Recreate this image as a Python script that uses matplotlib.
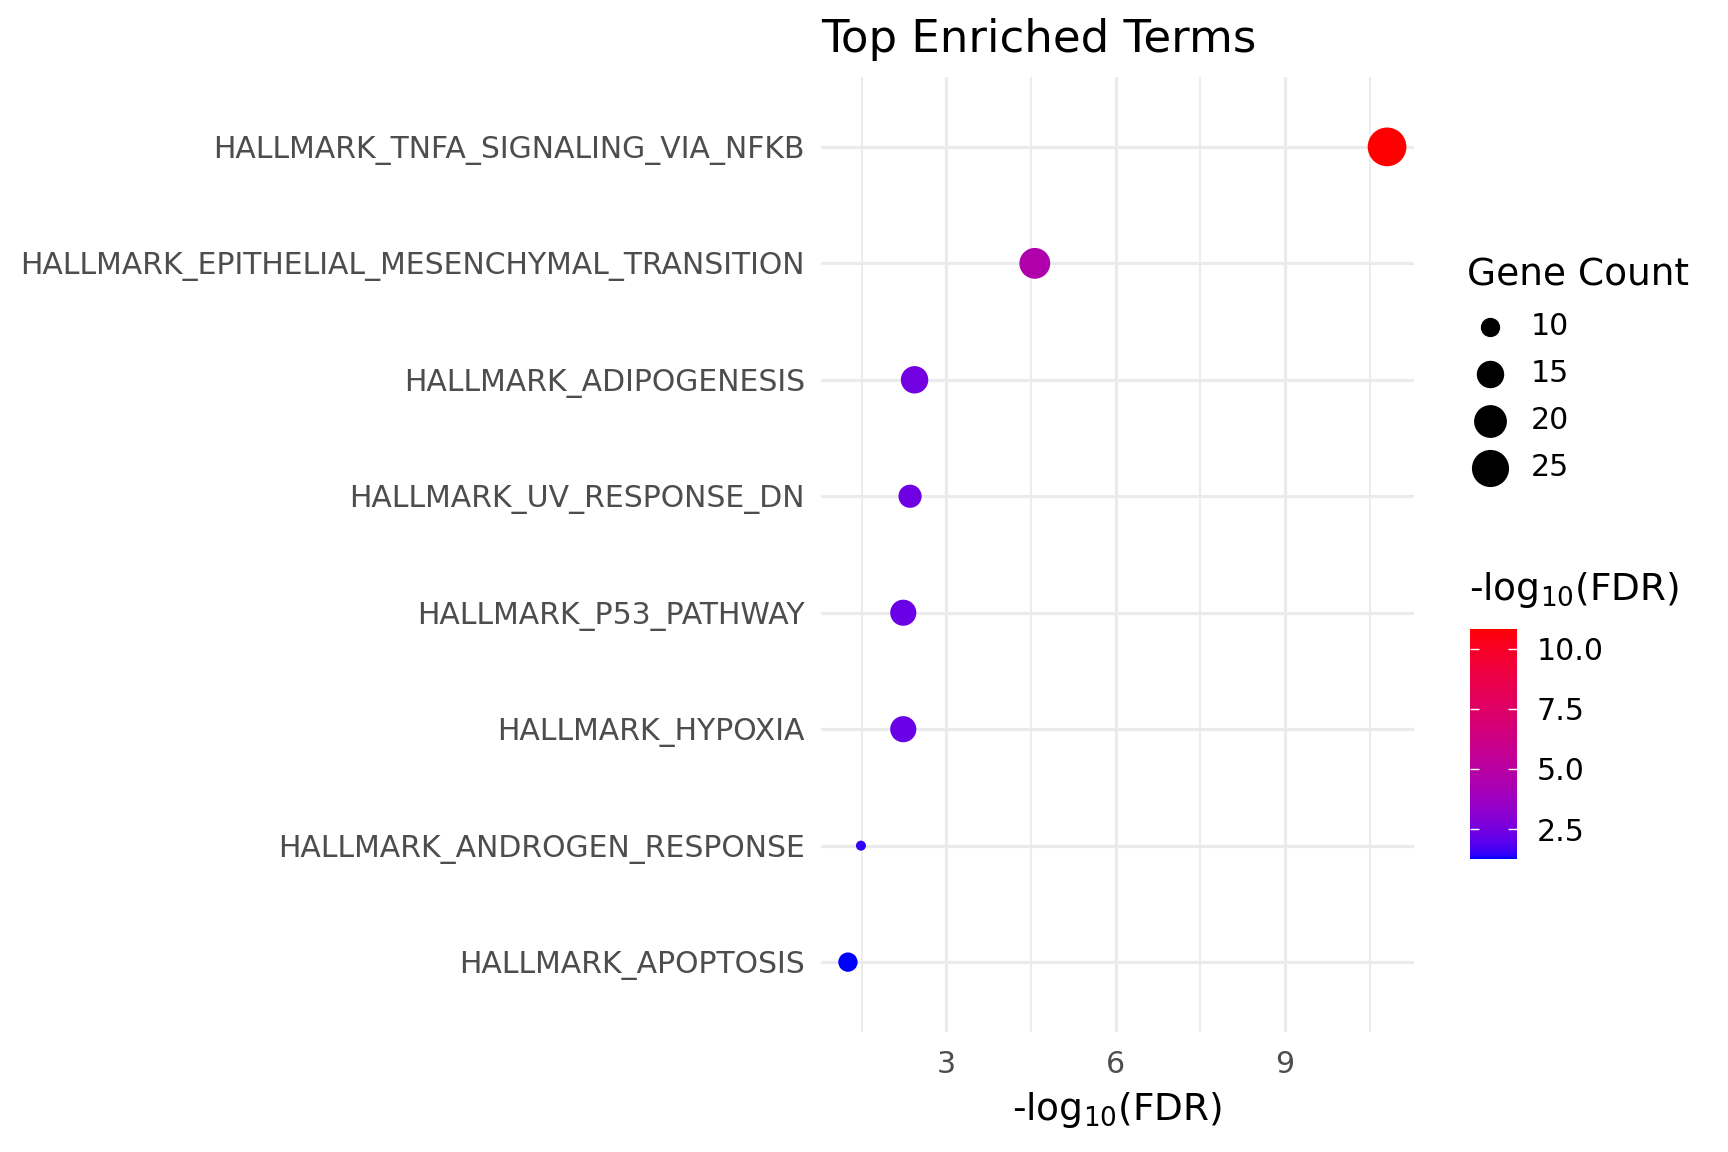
import numpy as np
import matplotlib
matplotlib.use("Agg")
import matplotlib.pyplot as plt
from matplotlib.colors import ListedColormap, Normalize

# data, top row first
terms = [
    "HALLMARK_TNFA_SIGNALING_VIA_NFKB",
    "HALLMARK_EPITHELIAL_MESENCHYMAL_TRANSITION",
    "HALLMARK_ADIPOGENESIS",
    "HALLMARK_UV_RESPONSE_DN",
    "HALLMARK_P53_PATHWAY",
    "HALLMARK_HYPOXIA",
    "HALLMARK_ANDROGEN_RESPONSE",
    "HALLMARK_APOPTOSIS",
]
neg_log_fdr = [10.81, 4.57, 2.44, 2.36, 2.24, 2.24, 1.49, 1.26]
gene_count = [27, 18, 15, 12, 14, 14, 8, 10]
legend_counts = [10, 15, 20, 25]
cbar_ticks = [2.5, 5.0, 7.5, 10.0]


def srgb_to_lab(rgb):
    rgb = np.asarray(rgb, float)
    lin = np.where(rgb <= 0.04045, rgb / 12.92, ((rgb + 0.055) / 1.055) ** 2.4)
    m = np.array([[0.4124, 0.3576, 0.1805],
                  [0.2126, 0.7152, 0.0722],
                  [0.0193, 0.1192, 0.9505]])
    xyz = m @ lin / np.array([0.95047, 1.0, 1.08883])
    f = np.where(xyz > 0.008856, np.cbrt(xyz), 7.787 * xyz + 16 / 116)
    return np.array([116 * f[1] - 16, 500 * (f[0] - f[1]), 200 * (f[1] - f[2])])


def lab_to_srgb(lab):
    L, a, b = lab
    fy = (L + 16) / 116
    fx = fy + a / 500
    fz = fy - b / 200
    f = np.array([fx, fy, fz])
    xyz = np.where(f ** 3 > 0.008856, f ** 3, (f - 16 / 116) / 7.787)
    xyz = xyz * np.array([0.95047, 1.0, 1.08883])
    minv = np.array([[3.2406, -1.5372, -0.4986],
                     [-0.9689, 1.8758, 0.0415],
                     [0.0557, -0.2040, 1.0570]])
    lin = np.clip(minv @ xyz, 0, 1)
    rgb = np.where(lin <= 0.0031308, 12.92 * lin, 1.055 * lin ** (1 / 2.4) - 0.055)
    return np.clip(rgb, 0, 1)


# blue -> red, interpolated in Lab like ggplot's gradient
lo_lab = srgb_to_lab([0, 0, 1])
hi_lab = srgb_to_lab([1, 0, 0])
cmap = ListedColormap([lab_to_srgb(lo_lab + t * (hi_lab - lo_lab)) for t in np.linspace(0, 1, 256)])

cmin, cmax = min(gene_count), max(gene_count)


def marker_area(c):
    d_px = 10 + 28.7 * np.sqrt((np.asarray(c, float) - cmin) / (cmax - cmin))
    return (d_px * 0.72) ** 2


fig = plt.figure(figsize=(17.28, 11.52), dpi=100)
ax = fig.add_axes([821 / 1728, 1 - 1032 / 1152, 593 / 1728, 955 / 1152])

norm = Normalize(min(neg_log_fdr), max(neg_log_fdr))
y = np.arange(len(terms))
sc = ax.scatter(neg_log_fdr, y, s=marker_area(gene_count), c=neg_log_fdr,
                cmap=cmap, norm=norm, linewidths=0, zorder=3)

span = max(neg_log_fdr) - min(neg_log_fdr)
ax.set_xlim(min(neg_log_fdr) - 0.05 * span, max(neg_log_fdr) + 0.05 * span)
ax.set_ylim(len(terms) - 0.4, -0.6)
ax.set_yticks(y)
ax.set_yticklabels(terms)
ax.set_xticks([3, 6, 9])
ax.set_xticks([1.5, 4.5, 7.5, 10.5], minor=True)

ax.grid(True, which="major", color="#EBEBEB", linewidth=2.3, zorder=0)
ax.grid(True, which="minor", axis="x", color="#EBEBEB", linewidth=1.3, zorder=0)
ax.set_axisbelow(True)
for s in ax.spines.values():
    s.set_visible(False)
ax.tick_params(which="both", length=0)
ax.tick_params(axis="y", labelsize=21.52, labelcolor="#4D4D4D", pad=11.5)
ax.tick_params(axis="x", labelsize=21.6, labelcolor="#4D4D4D", pad=13)

ax.set_xlabel("-log$_{10}$(FDR)", fontsize=27, labelpad=8)
ax.set_title("Top Enriched Terms", loc="left", fontsize=32.4, pad=18)

# size legend
handles = [ax.scatter([], [], s=marker_area(c), color="black", linewidths=0) for c in legend_counts]
leg = ax.legend(handles, [str(c) for c in legend_counts], title="Gene Count",
                loc="upper left", bbox_to_anchor=(1467 / 1728, 1 - 258 / 1152),
                bbox_transform=fig.transFigure, frameon=False, fontsize=21.6,
                title_fontsize=27, labelspacing=0.6, handlelength=1.5, handletextpad=0.63,
                borderpad=0, borderaxespad=0, alignment="left", scatterpoints=1)

# colour bar
cax = fig.add_axes([1470 / 1728, 1 - 859 / 1152, 47 / 1728, 230 / 1152])
cb = fig.colorbar(sc, cax=cax, ticks=cbar_ticks)
cb.outline.set_visible(False)
cb.ax.set_yticklabels([f"{t:.1f}" for t in cbar_ticks])
cax.yaxis.set_ticks_position("both")
cax.tick_params(axis="y", direction="in", length=6.5, width=1, color="white",
                labelsize=21.6, pad=14, labelleft=False, labelright=True)
fig.text(1469 / 1728, 1 - 590 / 1152, "-log$_{10}$(FDR)", fontsize=27, va="center", ha="left")

fig.savefig("out.png", dpi=100, facecolor="white")
